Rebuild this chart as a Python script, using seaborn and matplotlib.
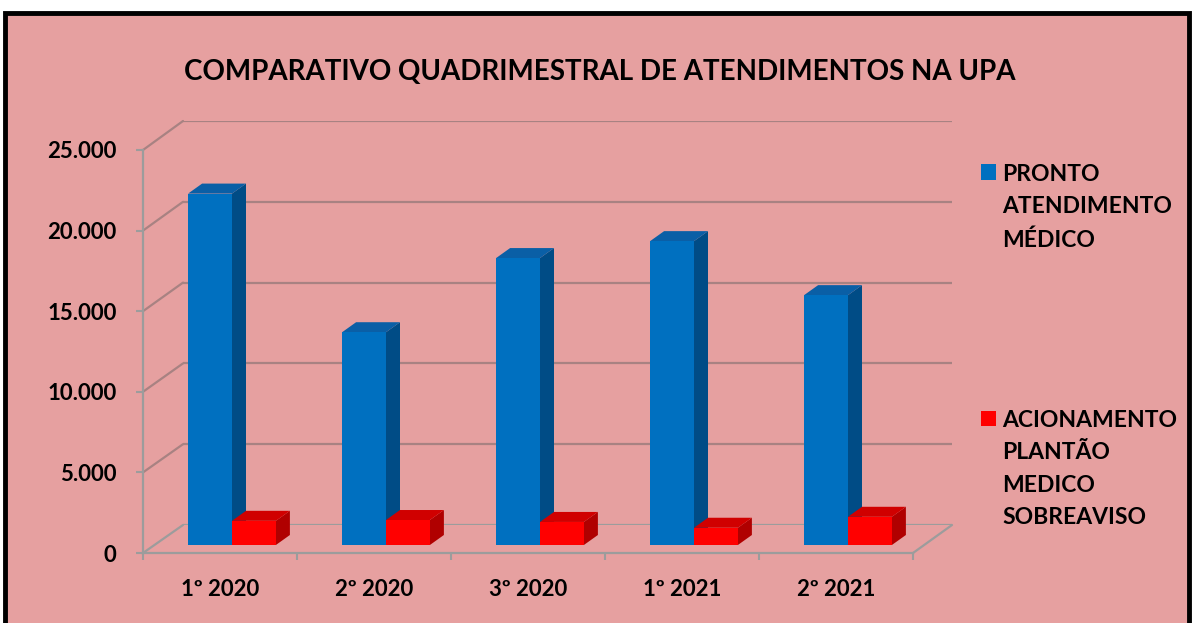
import matplotlib
matplotlib.use("Agg")
import matplotlib.pyplot as plt
import seaborn as sns
import pandas as pd
from matplotlib.patches import Polygon, Rectangle, ConnectionPatch

# ---------------- data ----------------
periods = ["1º 2020", "2º 2020", "3º 2020", "1º 2021", "2º 2021"]
pronto = [21800, 13200, 17800, 18850, 15500]
acionamento = [1500, 1550, 1430, 1070, 1750]
series_names = ["PRONTO\nATENDIMENTO\nMÉDICO",
                "ACIONAMENTO\nPLANTÃO\nMEDICO\nSOBREAVISO"]
ytick_values = [0, 5000, 10000, 15000, 20000, 25000]
ytick_labels = ["0", "5.000", "10.000", "15.000", "20.000", "25.000"]
title = "COMPARATIVO QUADRIMESTRAL DE ATENDIMENTOS NA UPA"

front_colors = ["#0070C0", "#FF0000"]
side_colors = ["#004C86", "#B00000"]
top_colors = ["#0A5FA6", "#D00000"]

df = pd.DataFrame({
    "periodo": periods * 2,
    "valor": pronto + acionamento,
    "serie": [series_names[0]] * len(periods) + [series_names[1]] * len(periods),
})

# ---------------- figure ----------------
W, H = 1192, 623
sns.set_theme(style="white")
plt.rcParams["font.family"] = ["Lato", "DejaVu Sans"]
plt.rcParams["font.weight"] = "bold"

fig = plt.figure(figsize=(W / 100, H / 100), dpi=100, facecolor="white")

BG = "#E6A0A0"
frame = Rectangle((5 / W, -0.05), (1189 - 5) / W, 1.05 - 13 / H,
                  transform=fig.transFigure, facecolor=BG, edgecolor="black",
                  linewidth=3.5, zorder=-10)
fig.patches.append(frame)


def box(l, t, r, b):
    return [l / W, 1 - b / H, (r - l) / W, (b - t) / H]


ncat = len(periods)
GRID = "#A88282"
EDGE = "#9C9C9C"

# back wall (gridlines)
ax_back = fig.add_axes(box(183, 121, 952, 525))
ax_back.set_zorder(1)
ax_back.set_xlim(-0.5, ncat - 0.5)
ax_back.set_ylim(0, 25000)
ax_back.patch.set_alpha(0)
for s in ax_back.spines.values():
    s.set_visible(False)
ax_back.set_xticks([])
ax_back.set_yticks([])
for v in ytick_values[1:]:
    ax_back.axhline(v, color=GRID, lw=1.6, zorder=1)
ax_back.axhline(0, color=EDGE, lw=1.6, zorder=1)

# front plane (axis with labels)
ax_front = fig.add_axes(box(143, 150, 913, 553))
ax_front.set_zorder(2)
ax_front.set_xlim(-0.5, ncat - 0.5)
ax_front.set_ylim(0, 25000)
ax_front.patch.set_alpha(0)
for k in ["top", "right"]:
    ax_front.spines[k].set_visible(False)
for k in ["left", "bottom"]:
    ax_front.spines[k].set_color(EDGE)
    ax_front.spines[k].set_linewidth(1.6)
ax_front.set_yticks(ytick_values)
ax_front.set_yticklabels(ytick_labels)
ax_front.set_xticks(range(ncat))
ax_front.set_xticklabels(periods)
ax_front.set_xticks([i - 0.5 for i in range(ncat + 1)], minor=True)
ax_front.tick_params(axis="y", length=5, width=1.5, color=EDGE, pad=14,
                     labelsize=16, left=True)
ax_front.tick_params(axis="x", which="major", length=0, pad=19, labelsize=16)
ax_front.tick_params(axis="x", which="minor", length=5, width=1.5,
                     color=EDGE, bottom=True)
for lab in ax_front.get_xticklabels() + ax_front.get_yticklabels():
    lab.set_fontweight("bold")
    lab.set_color("black")

# connecting diagonals (left wall and floor)
for v in ytick_values:
    cp = ConnectionPatch(xyA=(-0.5, v), coordsA=ax_front.transData,
                         xyB=(-0.5, v), coordsB=ax_back.transData,
                         color=EDGE if v == 0 else GRID, lw=1.6, zorder=1)
    fig.add_artist(cp)
cp = ConnectionPatch(xyA=(ncat - 0.5, 0), coordsA=ax_front.transData,
                     xyB=(ncat - 0.5, 0), coordsB=ax_back.transData,
                     color=EDGE, lw=1.6, zorder=1)
fig.add_artist(cp)

# bars
ax_bar = fig.add_axes(box(155, 142, 925, 545))
ax_bar.set_zorder(3)
sns.barplot(data=df, x="periodo", y="valor", hue="serie", order=periods,
            hue_order=series_names, palette=front_colors, width=0.57,
            saturation=1, ax=ax_bar, legend=False)
ax_bar.set_xlim(-0.5, ncat - 0.5)
ax_bar.set_ylim(0, 25000)
ax_bar.patch.set_alpha(0)
ax_bar.axis("off")

bb = ax_bar.get_position()
px_w = bb.width * W
px_h = bb.height * H
DX_PX, DY_PX = 14, 10
dx = DX_PX * ncat / px_w
dy = DY_PX * 25000 / px_h

bars = list(ax_bar.patches)
for i, p in enumerate(bars):
    s = 0 if i < ncat else 1
    x0 = p.get_x()
    w = p.get_width()
    h = p.get_height()
    p.set_edgecolor("none")
    z = 3 + s * 2
    p.set_zorder(z + 1)
    side = Polygon([(x0 + w, 0), (x0 + w + dx, dy), (x0 + w + dx, h + dy),
                    (x0 + w, h)], closed=True, facecolor=side_colors[s],
                   edgecolor="none", zorder=z)
    top = Polygon([(x0, h), (x0 + dx, h + dy), (x0 + w + dx, h + dy),
                   (x0 + w, h)], closed=True, facecolor=top_colors[s],
                  edgecolor="none", zorder=z)
    ax_bar.add_patch(side)
    ax_bar.add_patch(top)

# title
fig.text(600 / W, 1 - 72 / H, title, ha="center", va="center",
         fontsize=20, fontweight="bold", color="black", zorder=5)

# legend
legend_y = [172, 418]
for s, name in enumerate(series_names):
    yc = legend_y[s]
    fig.patches.append(Rectangle((981 / W, 1 - (yc + 7.5) / H), 15 / W, 15 / H,
                                 transform=fig.transFigure, zorder=5,
                                 facecolor=front_colors[s], edgecolor="none"))
    fig.text(1002 / W, 1 - (yc - 8) / H, name, ha="left", va="top",
             fontsize=16.5, fontweight="bold", color="black",
             linespacing=1.67, zorder=5)

fig.savefig("out.png", dpi=100, facecolor="white")
